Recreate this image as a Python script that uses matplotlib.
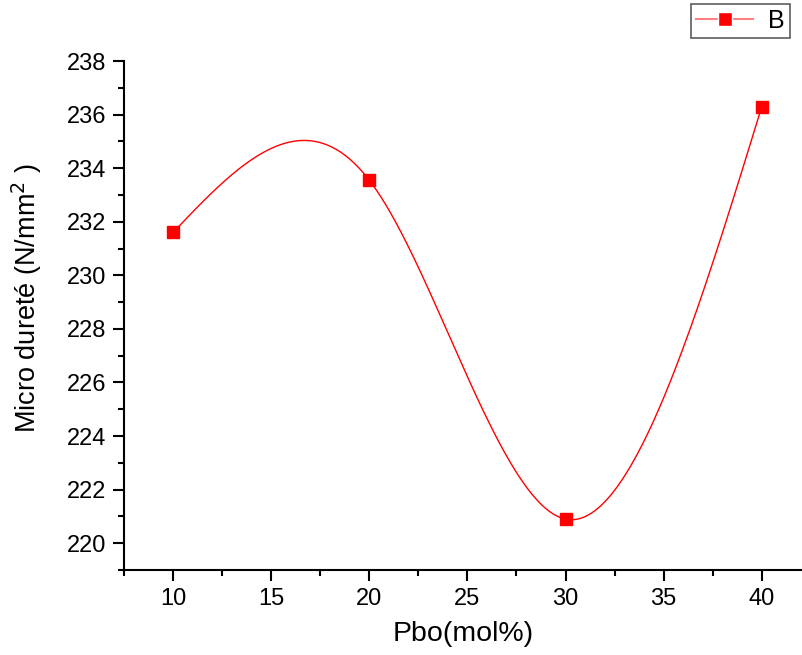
import numpy as np
import matplotlib.pyplot as plt
from matplotlib.ticker import MultipleLocator

# data
pbo = np.array([10, 20, 30, 40], dtype=float)
durete = np.array([231.6, 233.55, 220.9, 236.3])


def natural_spline(x, y, n=400):
    # natural cubic spline, same as Origin's "spline" connect
    h = np.diff(x)
    k = len(x)
    A = np.zeros((k, k))
    b = np.zeros(k)
    A[0, 0] = A[-1, -1] = 1
    for i in range(1, k - 1):
        A[i, i - 1] = h[i - 1]
        A[i, i] = 2 * (h[i - 1] + h[i])
        A[i, i + 1] = h[i]
        b[i] = 6 * ((y[i + 1] - y[i]) / h[i] - (y[i] - y[i - 1]) / h[i - 1])
    M = np.linalg.solve(A, b)
    xs = np.linspace(x[0], x[-1], n)
    idx = np.clip(np.searchsorted(x, xs) - 1, 0, k - 2)
    x0, x1 = x[idx], x[idx + 1]
    hh = x1 - x0
    ys = (M[idx] * (x1 - xs) ** 3 / (6 * hh) + M[idx + 1] * (xs - x0) ** 3 / (6 * hh)
          + (y[idx] / hh - M[idx] * hh / 6) * (x1 - xs)
          + (y[idx + 1] / hh - M[idx + 1] * hh / 6) * (xs - x0))
    return xs, ys


plt.rcParams['font.family'] = ['Liberation Sans', 'DejaVu Sans']

fig = plt.figure(figsize=(8.03, 6.55), dpi=100)
ax = fig.add_axes([124 / 803, 1 - 570 / 655, (803 - 124) / 803, (570 - 61) / 655])

xs, ys = natural_spline(pbo, durete)
ax.plot(xs, ys, color='red', lw=1, zorder=2)
ax.plot(pbo, durete, 's', color='red', ms=9, zorder=3)

# legend handle: faded line with a square marker
h_line, = ax.plot([], [], color=(1, 0.5, 0.5), lw=1.5, marker='s', ms=10,
                  mfc='red', mec='white', mew=1)
leg = fig.legend(handles=[h_line], labels=['B'], loc='upper right',
                 bbox_to_anchor=(790 / 803, 1 - 4 / 655), frameon=True,
                 fancybox=False, edgecolor='#333333', fontsize=18,
                 handlelength=2.3, borderpad=0.2, handletextpad=0.6,
                 borderaxespad=0)
leg.get_frame().set_linewidth(1.2)

ax.set_xlim(7.5, 42.1)
ax.set_ylim(219, 238)
ax.xaxis.set_major_locator(MultipleLocator(5))
ax.xaxis.set_minor_locator(MultipleLocator(2.5))
ax.yaxis.set_major_locator(MultipleLocator(2))
ax.yaxis.set_minor_locator(MultipleLocator(1))

ax.spines['top'].set_visible(False)
ax.spines['right'].set_visible(False)
for s in ('left', 'bottom'):
    ax.spines[s].set_linewidth(1.5)

ax.tick_params(which='major', direction='out', length=8, width=1.5, labelsize=17, pad=5)
ax.tick_params(which='minor', direction='out', length=4, width=1.5)

ax.set_xlabel('Pbo(mol%)', fontsize=20.5, labelpad=8)
ax.set_ylabel('Micro dureté (N/mm$^2$ )', fontsize=19.5)
ax.yaxis.set_label_coords(-0.118, 0.535)

fig.savefig('out.png', dpi=100)
